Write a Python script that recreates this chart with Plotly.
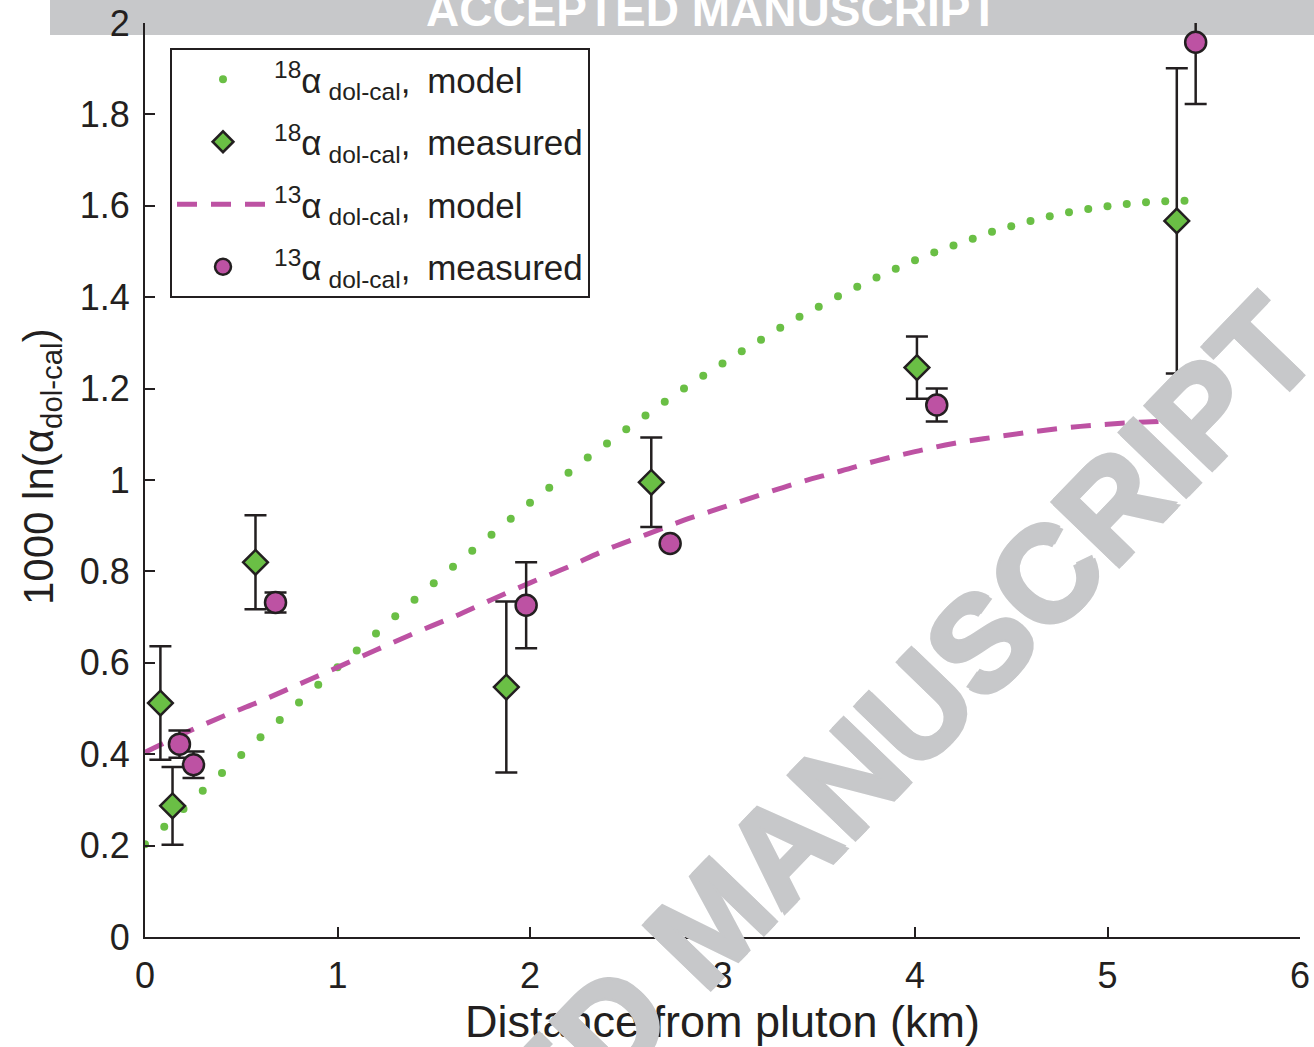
import plotly.graph_objects as go

# ---- data ----
m18_x = [0.0, 0.1, 0.2, 0.3, 0.4, 0.5, 0.6, 0.7, 0.8, 0.9, 1.0, 1.1, 1.2, 1.3, 1.4, 1.5, 1.6, 1.7, 1.8, 1.9,
         2.0, 2.1, 2.2, 2.3, 2.4, 2.5, 2.6, 2.7, 2.8, 2.9, 3.0, 3.1, 3.2, 3.3, 3.4, 3.5, 3.6, 3.7, 3.8, 3.9,
         4.0, 4.1, 4.2, 4.3, 4.4, 4.5, 4.6, 4.7, 4.8, 4.9, 5.0, 5.1, 5.2, 5.3, 5.4]
m18_y = [0.203, 0.241, 0.280, 0.320, 0.359, 0.398, 0.437, 0.475, 0.513, 0.552, 0.590, 0.627, 0.664, 0.702,
         0.738, 0.774, 0.810, 0.845, 0.880, 0.915, 0.950, 0.983, 1.016, 1.049, 1.080, 1.111, 1.141, 1.171,
         1.200, 1.228, 1.255, 1.282, 1.307, 1.333, 1.357, 1.379, 1.402, 1.423, 1.443, 1.462, 1.481, 1.498,
         1.513, 1.528, 1.543, 1.555, 1.567, 1.577, 1.586, 1.593, 1.599, 1.604, 1.608, 1.610, 1.611]

m13_x = [0.0, 0.2, 0.4, 0.6, 0.8, 1.0, 1.2, 1.4, 1.6, 1.8, 2.0, 2.2, 2.4, 2.6, 2.8, 3.0, 3.2, 3.4, 3.6, 3.8,
         4.0, 4.2, 4.4, 4.6, 4.8, 5.0, 5.2, 5.4]
m13_y = [0.404, 0.445, 0.482, 0.516, 0.553, 0.590, 0.628, 0.665, 0.700, 0.738, 0.775, 0.810, 0.848, 0.880,
         0.912, 0.940, 0.968, 0.995, 1.018, 1.042, 1.062, 1.080, 1.093, 1.105, 1.115, 1.122, 1.127, 1.129]

d18_x = [0.08, 0.143, 0.574, 1.877, 2.63, 4.01, 5.36]
d18_y = [0.512, 0.287, 0.820, 0.547, 0.995, 1.246, 1.567]
d18_err = [0.124, 0.085, 0.103, 0.187, 0.098, 0.068, 0.334]

d13_x = [0.179, 0.252, 0.678, 1.98, 2.728, 4.113, 5.458]
d13_y = [0.422, 0.377, 0.732, 0.726, 0.861, 1.164, 1.958]
d13_err = [0.030, 0.029, 0.022, 0.094, 0.0, 0.036, 0.135]

x_ticks = [0, 1, 2, 3, 4, 5, 6]
y_ticks = [0, 0.2, 0.4, 0.6, 0.8, 1.0, 1.2, 1.4, 1.6, 1.8, 2.0]

# ---- styles ----
FONT = "Liberation Sans, Arial, Helvetica, sans-serif"
GREEN = "#6abf45"
MAGENTA = "#bd52a3"
DARK = "#231f20"
GRAY = "#c7c8ca"
TS = "\u2009"  # thin space


def lab(iso, kind):
    return "<sup>" + iso + "</sup>α" + TS + "<sub>dol-cal</sub>," + TS + " " + kind


fig = go.Figure()

fig.add_trace(go.Scatter(
    x=m18_x, y=m18_y, mode="markers",
    marker=dict(size=8, color=GREEN, line=dict(width=0)),
    name=lab("18", "model"), legendrank=1, legendgroup="a",
))
fig.add_trace(go.Scatter(
    x=m13_x, y=m13_y, mode="lines", line_shape="spline",
    line=dict(color=MAGENTA, width=5, dash="20px,14px"),
    name=lab("13", "model"), legendrank=3, legendgroup="c",
))
fig.add_trace(go.Scatter(
    x=d18_x, y=d18_y, mode="markers", cliponaxis=False,
    marker=dict(symbol="diamond", size=19, color=GREEN, line=dict(color=DARK, width=2.5)),
    error_y=dict(type="data", array=d18_err, color=DARK, thickness=2.5, width=11),
    name=lab("18", "measured"), legendrank=2, legendgroup="b",
))
fig.add_trace(go.Scatter(
    x=d13_x, y=d13_y, mode="markers", cliponaxis=False,
    marker=dict(symbol="circle", size=21, color=MAGENTA, line=dict(color=DARK, width=2.5)),
    error_y=dict(type="data", array=d13_err, color=DARK, thickness=2.5, width=11),
    name=lab("13", "measured"), legendrank=4, legendgroup="d",
))

W, H = 1314, 1047
PLOT_L, PLOT_R, PLOT_T, PLOT_B = 145, 1300, 23, 937   # pixel box of the axes
PW, PH = PLOT_R - PLOT_L, PLOT_B - PLOT_T


def px_x(p):
    return (p - PLOT_L) / PW


def px_y(p):
    return (PLOT_B - p) / PH


fig.update_layout(
    width=W, height=H,
    margin=dict(l=PLOT_L, r=W - PLOT_R, t=PLOT_T, b=H - PLOT_B, pad=0, autoexpand=False),
    paper_bgcolor="white", plot_bgcolor="white",
    font=dict(family=FONT, color=DARK, size=36),
    showlegend=True,
    legend=dict(
        x=px_x(170), y=px_y(48), xanchor="left", yanchor="top",
        bgcolor="white", bordercolor=DARK, borderwidth=2,
        font=dict(size=35, family=FONT, color=DARK),
        itemwidth=92, tracegroupgap=14,
    ),
    xaxis=dict(
        range=[0, 6], tickvals=x_ticks, ticks="inside", ticklen=10, tickwidth=2, tickcolor=DARK,
        showline=True, linewidth=2, linecolor=DARK, mirror=False, showgrid=False, zeroline=False,
        tickfont=dict(size=36), ticklabelstandoff=6, automargin=False, ticklabeloverflow="allow",
        title=dict(text="Distance from pluton (km)", font=dict(size=45), standoff=1),
    ),
    yaxis=dict(
        range=[0, 2], tickvals=y_ticks, ticks="inside", ticklen=10, tickwidth=2, tickcolor=DARK,
        showline=True, linewidth=2, linecolor=DARK, mirror=False, showgrid=False, zeroline=False,
        tickfont=dict(size=36), ticklabelstandoff=6, automargin=False, ticklabeloverflow="allow",
    ),
    shapes=[dict(
        type="rect", xref="paper", yref="paper", layer="below",
        x0=px_x(50), x1=px_x(1330), y0=px_y(35), y1=px_y(-10),
        fillcolor=GRAY, line=dict(width=0),
    )],
    annotations=[
        dict(text="1000 ln(α<sub>dol-cal</sub>)", xref="paper", yref="paper",
             x=px_x(41), y=px_y(466), xanchor="center", yanchor="middle",
             showarrow=False, textangle=-90, font=dict(size=42, color=DARK, family=FONT)),
        dict(text="<b>ACCEPTED MANUSCRIPT</b>", xref="paper", yref="paper",
             x=px_x(712), y=px_y(9.5), xanchor="center", yanchor="middle",
             showarrow=False, font=dict(size=46, color="white", family=FONT)),
        dict(text="<b>ACCEPTED MANUSCRIPT</b>", xref="paper", yref="paper",
             x=px_x(712), y=px_y(920), xanchor="center", yanchor="middle",
             showarrow=False, textangle=-46,
             font=dict(size=134, color=GRAY, family=FONT,
                       shadow="2px 2px 0 #c7c8ca, -2px -2px 0 #c7c8ca, 2px -2px 0 #c7c8ca, -2px 2px 0 #c7c8ca")),
    ],
)

fig.write_html("out.html", config={"displayModeBar": False},
               post_script="document.body.style.margin='0px';")
